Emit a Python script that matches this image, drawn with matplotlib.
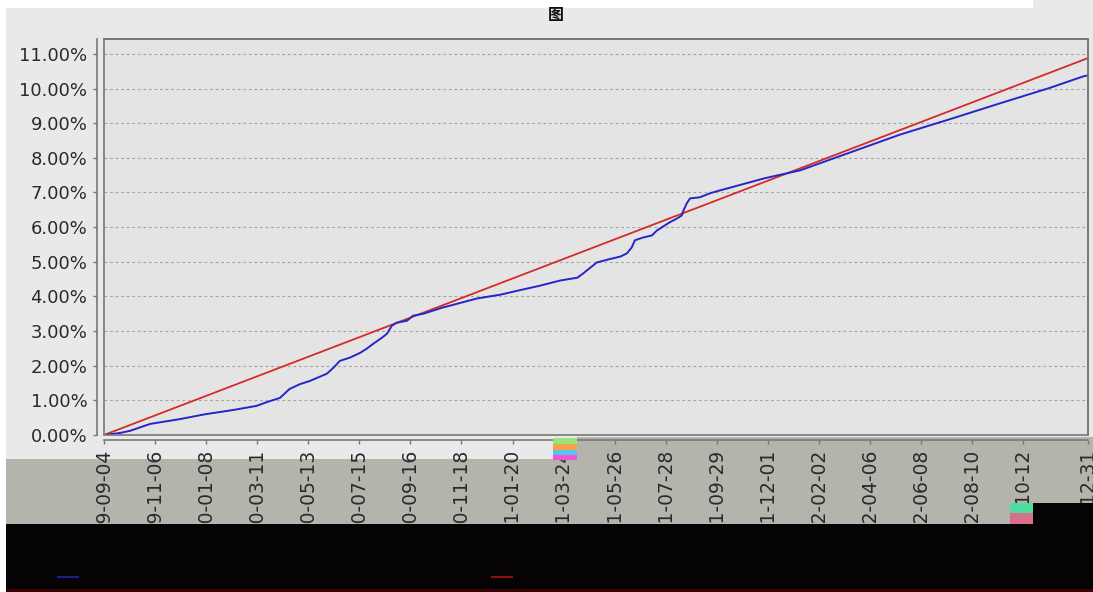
import matplotlib
matplotlib.use('Agg')
import matplotlib.pyplot as plt
from matplotlib.patches import Rectangle
from matplotlib.lines import Line2D
import pandas as pd

# ---------------- data ----------------
title_text = '图'

blue_dates = ['2019-09-04', '2019-09-24', '2019-10-06', '2019-10-31', '2019-12-07',
              '2020-01-07', '2020-02-10', '2020-03-10', '2020-03-23', '2020-04-08',
              '2020-04-20', '2020-05-03', '2020-05-15', '2020-05-24', '2020-06-05',
              '2020-06-13', '2020-06-21', '2020-07-03', '2020-07-16', '2020-07-24',
              '2020-08-01', '2020-08-12', '2020-08-18', '2020-08-24', '2020-08-30',
              '2020-09-12', '2020-09-19', '2020-10-02', '2020-10-14', '2020-10-26',
              '2020-11-13', '2020-12-07', '2021-01-05', '2021-01-29', '2021-02-23',
              '2021-03-20', '2021-04-10', '2021-04-17', '2021-04-26', '2021-05-04',
              '2021-05-17', '2021-06-02', '2021-06-10', '2021-06-16', '2021-06-20',
              '2021-06-30', '2021-07-11', '2021-07-17', '2021-07-25', '2021-08-02',
              '2021-08-11', '2021-08-17', '2021-08-18', '2021-08-23', '2021-08-27',
              '2021-09-08', '2021-09-21', '2021-10-03', '2021-11-27', '2022-01-10',
              '2022-02-16', '2022-05-13', '2022-07-17', '2022-09-13', '2022-11-14',
              '2022-12-25', '2022-12-31']
blue_values = [0.00, 0.06, 0.12, 0.32, 0.46,
               0.60, 0.72, 0.84, 0.95, 1.07,
               1.33, 1.47, 1.56, 1.65, 1.77,
               1.94, 2.14, 2.23, 2.37, 2.49,
               2.63, 2.81, 2.92, 3.15, 3.24,
               3.30, 3.44, 3.50, 3.59, 3.68,
               3.79, 3.94, 4.05, 4.18, 4.31,
               4.46, 4.54, 4.66, 4.83, 4.98,
               5.06, 5.15, 5.24, 5.41, 5.62,
               5.70, 5.76, 5.90, 6.02, 6.14,
               6.25, 6.34, 6.43, 6.69, 6.83,
               6.86, 6.98, 7.06, 7.41, 7.64,
               7.95, 8.67, 9.14, 9.57, 10.02,
               10.35, 10.38]

red_dates = ['2019-09-04', '2022-12-31']
red_values = [0.00, 10.88]

x_tick_dates = ['2019-09-04', '2019-11-06', '2020-01-08', '2020-03-11', '2020-05-13',
                '2020-07-15', '2020-09-16', '2020-11-18', '2021-01-20', '2021-03-24',
                '2021-05-26', '2021-07-28', '2021-09-29', '2021-12-01', '2022-02-02',
                '2022-04-06', '2022-06-08', '2022-08-10', '2022-10-12', '2022-12-31']
y_ticks = [0, 1, 2, 3, 4, 5, 6, 7, 8, 9, 10, 11]
y_max = 11.43

plt.rcParams['font.family'] = ['DejaVu Sans']

# ---------------- figure ----------------
W, H = 1093, 592
fig = plt.figure(figsize=(W / 100, H / 100), dpi=100)
fig.patch.set_facecolor('#e9e9e9')


def band(x0, y0, x1, y1, color, z):
    fig.add_artist(Rectangle((x0 / W, 1 - y1 / H), (x1 - x0) / W, (y1 - y0) / H,
                             transform=fig.transFigure, facecolor=color,
                             edgecolor='none', zorder=z))


# background bands (behind axes)
band(0, 0, 1033, 8, '#ffffff', -5)
band(0, 0, 6, H, '#ffffff', -5)
band(6, 459, W, 524, '#b4b4ac', -4)
band(577, 437, W, 459, '#b4b4ac', -4)

ax = fig.add_axes([104 / W, 1 - 435 / H, 984 / W, 396 / H])
ax.set_facecolor('#e4e4e4')

ax.plot(pd.to_datetime(red_dates), red_values, color='#d42a2a', lw=1.3, zorder=3)
ax.plot(pd.to_datetime(blue_dates), blue_values, color='#2626c8', lw=1.4, zorder=4)

ax.set_xlim(pd.Timestamp(x_tick_dates[0]), pd.Timestamp(x_tick_dates[-1]))
ax.set_ylim(0, y_max)

ax.grid(axis='y', color='#a4a4a4', linestyle=(0, (2.5, 2.5)), linewidth=0.8)
ax.set_axisbelow(True)

for s in ['top', 'right', 'left', 'bottom']:
    ax.spines[s].set_color('#777777')
    ax.spines[s].set_linewidth(1.2)
ax.spines['left'].set_position(('outward', 5.0))
ax.spines['bottom'].set_position(('outward', 3.6))
ax.add_patch(Rectangle((0, 0), 1, 1, transform=ax.transAxes, fill=False,
                       edgecolor='#777777', linewidth=1.2, clip_on=False, zorder=5))

ax.tick_params(axis='both', direction='out', length=3, width=1, color='#777777',
               labelcolor='#2a2a2a')
ax.tick_params(axis='y', pad=4, labelsize=13)
ax.tick_params(axis='x', pad=3, labelsize=13.5, labelrotation=90)

ax.set_yticks(y_ticks)
ax.set_yticklabels([f'{v:.2f}%' for v in y_ticks])
ax.set_xticks(pd.to_datetime(x_tick_dates))
ax.set_xticklabels(x_tick_dates)
for lab in ax.get_xticklabels():
    lab.set_rotation(90)
    lab.set_ha('center')
    lab.set_va('top')

fig.text(556 / W, 1 - 15 / H, title_text, ha='center', va='center', fontsize=11.5,
         fontweight='bold', family=['Noto Sans CJK SC', 'DejaVu Sans'], color='#111111')

# foreground bands (cover part of tick labels)
band(6, 524, W, H, '#050303', 10)
band(6, 589, W, H, '#3a0404', 11)
band(1033, 503, W, 524, '#050303', 10)
# glitch artefacts
band(1010, 503, 1033, 513, '#4fdca0', 10)
band(1010, 513, 1033, 524, '#d8708c', 10)
band(553, 438, 577, 444, '#9be37a', 10)
band(553, 444, 577, 450, '#f6a24a', 10)
band(553, 450, 577, 455, '#54c6ee', 10)
band(553, 455, 577, 460, '#f055d8', 10)

# legend swatches in the dark band
fig.add_artist(Line2D([58 / W, 78 / W], [1 - 577 / H, 1 - 577 / H], transform=fig.transFigure,
                      color='#1c1c8c', lw=1.5, zorder=12))
fig.add_artist(Line2D([492 / W, 512 / W], [1 - 577 / H, 1 - 577 / H], transform=fig.transFigure,
                      color='#8c1010', lw=1.5, zorder=12))

fig.savefig('out.png', dpi=100, facecolor=fig.get_facecolor())
